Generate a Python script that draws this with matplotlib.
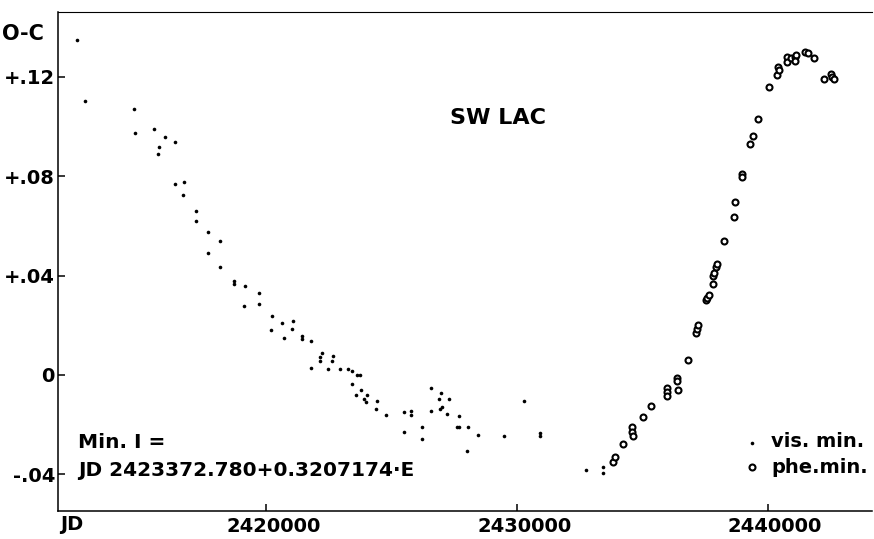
import matplotlib
matplotlib.use('Agg')
import matplotlib.pyplot as plt
import matplotlib.transforms as mtransforms
import numpy as np

plt.rcParams['font.family'] = ['DejaVu Sans']

# visual minima (JD, O-C)
vis_jd = [2412457, 2412763, 2414712, 2414763, 2415519, 2415984, 2415734, 2415694, 2416354,
          2416370, 2416740, 2416672, 2417217, 2417205, 2417694, 2418159, 2417694, 2418159,
          2418728, 2418728, 2419165, 2419125, 2419710, 2419710, 2420227, 2420199, 2420636,
          2420704, 2421085, 2421046, 2421419, 2421419, 2421777, 2422135, 2422239, 2422147,
          2422652, 2422636, 2421789, 2422477, 2422942, 2423272, 2423431, 2423606, 2423749,
          2423408, 2423765, 2423578, 2424028, 2423897, 2423988, 2424425, 2424374, 2424771,
          2425475, 2425777, 2425753, 2425475, 2426203, 2426215, 2426561, 2426958, 2426879,
          2427276, 2426573, 2426986, 2426906, 2427197, 2427702, 2427606, 2427702, 2428032,
          2428004, 2428457, 2429491, 2430258, 2430922, 2430922, 2432735, 2433439, 2433439]
vis_oc = [0.1349, 0.1103, 0.1070, 0.0975, 0.0989, 0.0960, 0.0918, 0.0890, 0.0938,
          0.0770, 0.0778, 0.0726, 0.0660, 0.0619, 0.0577, 0.0540, 0.0490, 0.0436,
          0.0377, 0.0366, 0.0356, 0.0278, 0.0329, 0.0286, 0.0238, 0.0181, 0.0211,
          0.0148, 0.0219, 0.0185, 0.0157, 0.0144, 0.0137, 0.0074, 0.0087, 0.0054,
          0.0077, 0.0054, 0.0029, 0.0024, 0.0023, 0.0023, 0.0016, -0.0001, -0.0001,
          -0.0036, -0.0060, -0.0079, -0.0079, -0.0098, -0.0109, -0.0106, -0.0138, -0.0161,
          -0.0148, -0.0145, -0.0161, -0.0231, -0.0208, -0.0258, -0.0054, -0.0072, -0.0098,
          -0.0098, -0.0146, -0.0130, -0.0137, -0.0158, -0.0166, -0.0211, -0.0211, -0.0209,
          -0.0305, -0.0242, -0.0248, -0.0105, -0.0235, -0.0248, -0.0383, -0.0369, -0.0396]

# photographic minima (JD, O-C)
phe_jd = [2433837, 2433904, 2434207, 2434580, 2434592, 2434620, 2435002, 2435320, 2435984,
          2435984, 2435984, 2436382, 2436382, 2436421, 2436807, 2437109, 2437149, 2437217,
          2437507, 2437574, 2437642, 2437813, 2437813, 2437841, 2437904, 2437944, 2438238,
          2438636, 2438700, 2438966, 2438966, 2439296, 2439392, 2439590, 2440028, 2440346,
          2440397, 2440449, 2440743, 2440755, 2440926, 2441061, 2441125, 2441061, 2441459,
          2441590, 2441817, 2442214, 2442493, 2442557, 2442624]
phe_oc = [-0.0349, -0.0331, -0.0277, -0.0211, -0.0228, -0.0246, -0.0168, -0.0124, -0.0054,
          -0.0067, -0.0083, -0.0013, -0.0024, -0.0062, 0.0059, 0.0170, 0.0185, 0.0199,
          0.0302, 0.0311, 0.0322, 0.0368, 0.0399, 0.0412, 0.0436, 0.0446, 0.0538,
          0.0637, 0.0698, 0.0809, 0.0796, 0.0929, 0.0961, 0.1030, 0.1161, 0.1209,
          0.1238, 0.1228, 0.1282, 0.1262, 0.1275, 0.1282, 0.1289, 0.1266, 0.1300,
          0.1298, 0.1275, 0.1191, 0.1211, 0.1201, 0.1191]

xticks = [2420000, 2430000, 2440000]
yticks = [-0.04, 0, 0.04, 0.08, 0.12]
ylabels = ['-.04', '0', '+.04', '+.08', '+.12']

fig = plt.figure(figsize=(8.74, 5.39), dpi=100)
ax = fig.add_axes([0.066, 0.052, 0.932, 0.926])

ax.plot(vis_jd, vis_oc, 'o', color='black', markersize=2.6, markeredgewidth=0)
ax.plot(phe_jd, phe_oc, 'o', markerfacecolor='white', markeredgecolor='black',
        markersize=4.3, markeredgewidth=1.5)

ax.set_xlim(2411690, 2444150)
ax.set_ylim(-0.0548, 0.1462)

ax.spines['right'].set_visible(False)
for s in ['left', 'bottom', 'top']:
    ax.spines[s].set_linewidth(1.1)
ax.spines['top'].set_linewidth(0.8)

ax.set_xticks(xticks)
ax.set_xticklabels([str(t) for t in xticks])
ax.set_yticks(yticks)
ax.set_yticklabels(ylabels)
ax.tick_params(direction='in', length=5, width=1.1, labelsize=14, pad=4)
ax.tick_params(axis='y', pad=2)
for lbl in ax.get_xticklabels() + ax.get_yticklabels():
    lbl.set_fontweight('bold')
# labels in the scan sit a little right of their ticks
off = mtransforms.ScaledTranslation(7 / 100, 0, fig.dpi_scale_trans)
for lbl in ax.get_xticklabels():
    lbl.set_transform(lbl.get_transform() + off)

fig.text(2 / 874, 1 - 34 / 539, 'O-C', fontsize=15, fontweight='bold', va='center', ha='left')
fig.text(60 / 874, 1 - 525 / 539, 'JD', fontsize=14, fontweight='bold', va='center', ha='left')

ax.text(0.5405, 0.787, 'SW LAC', transform=ax.transAxes, fontsize=16, fontweight='bold',
        ha='center', va='center')
ax.text(0.025, 0.137, 'Min. I =', transform=ax.transAxes, fontsize=14.5, fontweight='bold',
        ha='left', va='center')
ax.text(0.025, 0.081, 'JD 2423372.780+0.3207174\u00b7E', transform=ax.transAxes, fontsize=14.5,
        fontweight='bold', ha='left', va='center')

# legend drawn by hand like in the original
ax.plot([0.852], [0.137], 'o', color='black', markersize=2.6, markeredgewidth=0,
        transform=ax.transAxes)
ax.plot([0.852], [0.089], 'o', markerfacecolor='white', markeredgecolor='black',
        markersize=4.3, markeredgewidth=1.5, transform=ax.transAxes)
ax.text(0.876, 0.139, 'vis. min.', transform=ax.transAxes, fontsize=14, fontweight='bold',
        ha='left', va='center')
ax.text(0.876, 0.087, 'phe.min.', transform=ax.transAxes, fontsize=14, fontweight='bold',
        ha='left', va='center')

fig.savefig('out.png', dpi=100)
